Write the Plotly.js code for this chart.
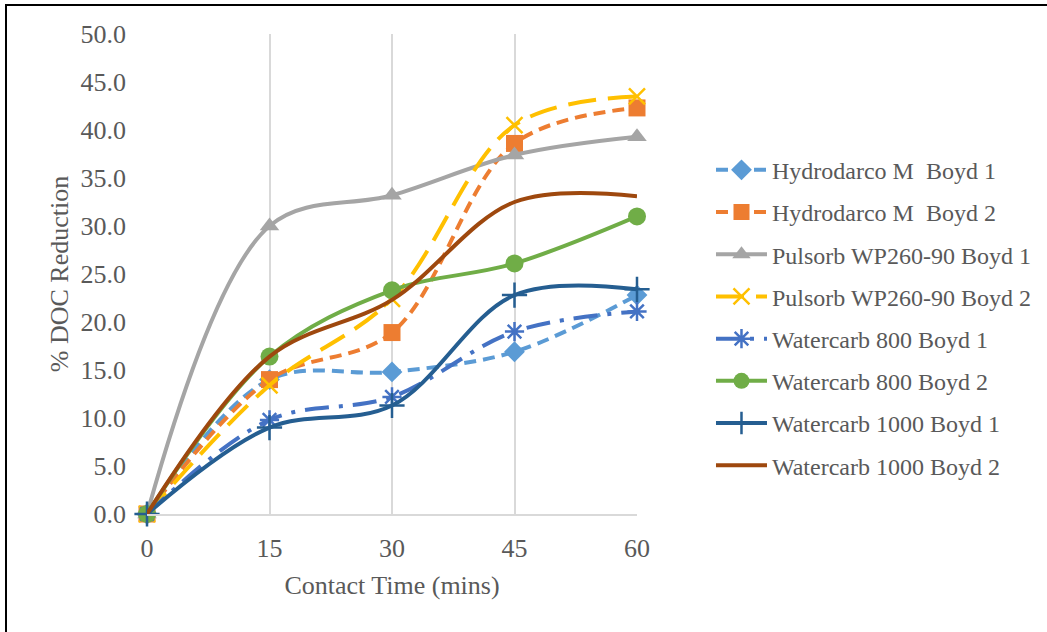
<!DOCTYPE html>
<html>
<head>
<meta charset="utf-8">
<script src="https://cdn.plot.ly/plotly-3.0.1.min.js"></script>
<style>
  html, body { margin: 0; padding: 0; overflow: hidden; background: #fff; }
  #chart { width: 1047px; height: 632px; }
  #frame { position: absolute; left: 5px; top: 4px; width: 2000px; height: 2000px;
           border-left: 2px solid #000; border-top: 2px solid #000; pointer-events: none; }
</style>
</head>
<body>
<div id="chart"></div>
<div id="frame"></div>
<script>
const contactTime = [0, 15, 30, 45, 60];

const seriesNames = [
  "Hydrodarco M  Boyd 1",
  "Hydrodarco M  Boyd 2",
  "Pulsorb WP260-90 Boyd 1",
  "Pulsorb WP260-90 Boyd 2",
  "Watercarb 800 Boyd 1",
  "Watercarb 800 Boyd 2",
  "Watercarb 1000 Boyd 1",
  "Watercarb 1000 Boyd 2"
];

const hydrodarcoB1 = [0, 14.0, 14.8, 16.9, 22.8];
const hydrodarcoB2 = [0, 14.0, 18.9, 38.6, 42.3];
const pulsorbB1    = [0, 30.0, 33.2, 37.4, 39.3];
const pulsorbB2    = [0, 13.4, 22.4, 40.5, 43.5];
const watercarb800B1  = [0, 9.8, 12.2, 19.0, 21.1];
const watercarb800B2  = [0, 16.4, 23.3, 26.1, 31.0];
const watercarb1000B1 = [0, 9.0, 11.3, 22.8, 23.4];
const watercarb1000B2 = [0, 16.4, 22.3, 32.5, 33.1];

const yTickVals = [0, 5, 10, 15, 20, 25, 30, 35, 40, 45, 50];
const xTickVals = [0, 15, 30, 45, 60];

const seriesValues = [hydrodarcoB1, hydrodarcoB2, pulsorbB1, pulsorbB2,
                      watercarb800B1, watercarb800B2, watercarb1000B1, watercarb1000B2];

const styles = [
  {color: "#5B9BD5", dash: "12px,7px", symbol: "diamond", msize: 16, open: false},
  {color: "#ED7D31", dash: "12px,7px", symbol: "square", msize: 17, open: false},
  {color: "#A5A5A5", dash: "solid", symbol: "triangle-up", msize: 17, open: false},
  {color: "#FFC000", dash: "28px,12px", symbol: "x-thin-open", msize: 16, open: true},
  {color: "#4472C4", dash: "24px,10px,4px,10px", symbol: "asterisk-open", msize: 16, open: true},
  {color: "#70AD47", dash: "solid", symbol: "circle", msize: 18, open: false},
  {color: "#255E91", dash: "solid", symbol: "cross-thin-open", msize: 18, open: true},
  {color: "#9E480E", dash: "solid", symbol: "circle", msize: 0, open: false}
];

const traces = seriesNames.map((name, i) => {
  const s = styles[i];
  return {
    type: "scatter",
    mode: s.msize > 0 ? "lines+markers" : "lines",
    name: name,
    legendgroup: "g" + i,
    x: contactTime,
    y: seriesValues[i],
    cliponaxis: false,
    line: {color: s.color, width: 4, dash: s.dash, shape: "spline", smoothing: 1},
    marker: {
      symbol: s.symbol,
      size: s.msize,
      color: s.color,
      line: {color: s.color, width: s.open ? 2.5 : 0}
    }
  };
});

const fontFam = "'Liberation Serif', 'Times New Roman', serif";

const layout = {
  width: 1047,
  height: 632,
  paper_bgcolor: "#ffffff",
  plot_bgcolor: "#ffffff",
  margin: {l: 147, r: 410, t: 34, b: 118, autoexpand: false},
  font: {family: fontFam, color: "#595959", size: 26},
  showlegend: true,
  legend: {
    x: 1.151, xanchor: "left",
    y: 0.763, yanchor: "top",
    itemwidth: 51,
    font: {family: fontFam, size: 24, color: "#595959"},
    tracegroupgap: 8,
    bgcolor: "rgba(0,0,0,0)"
  },
  xaxis: {
    range: [0, 60],
    tickvals: xTickVals,
    ticktext: xTickVals.map(String),
    showgrid: true,
    gridcolor: "#D9D9D9",
    gridwidth: 2,
    showline: true,
    linecolor: "#D9D9D9",
    linewidth: 2,
    zeroline: false,
    ticks: "",
    ticklabelstandoff: 10,
    tickfont: {family: fontFam, size: 26, color: "#595959"},
    title: {text: "Contact Time (mins)", font: {family: fontFam, size: 26, color: "#595959"}, standoff: 14}
  },
  yaxis: {
    range: [0, 50],
    tickvals: yTickVals,
    ticktext: yTickVals.map(v => v.toFixed(1)),
    showgrid: false,
    showline: false,
    zeroline: false,
    ticks: "",
    ticklabelstandoff: 20,
    tickfont: {family: fontFam, size: 26, color: "#595959"},
    title: {text: "% DOC Reduction", font: {family: fontFam, size: 26, color: "#595959"}, standoff: 4}
  }
};

Plotly.newPlot("chart", traces, layout, {displayModeBar: false, staticPlot: true});
</script>
</body>
</html>
